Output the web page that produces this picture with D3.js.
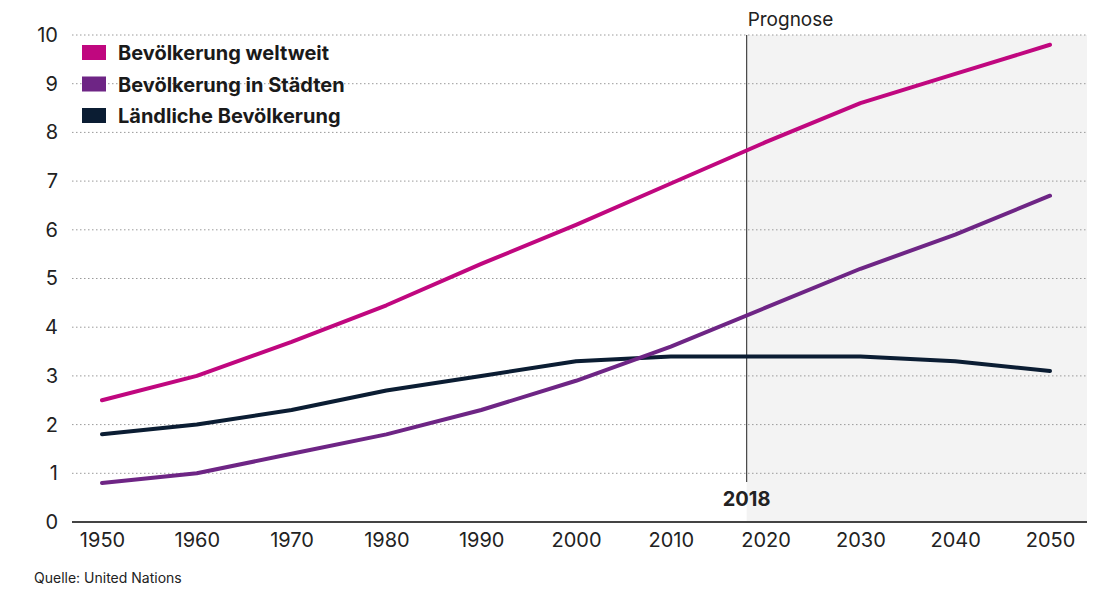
<!DOCTYPE html>
<html><head><meta charset="utf-8">
<script src="https://cdn.jsdelivr.net/npm/d3@7"></script>
<style>body{margin:0;background:#fff}svg{display:block;font-family:Inter,"Liberation Sans",sans-serif}</style>
</head><body><svg id="c" width="1120" height="614"></svg>
<script>
const years=[1950,1960,1970,1980,1990,2000,2010,2020,2030,2040,2050];
const world=[2.5,3.0,3.7,4.45,5.3,6.1,6.95,7.8,8.6,9.2,9.8];
const urban=[0.8,1.0,1.4,1.8,2.3,2.9,3.6,4.4,5.2,5.9,6.7];
const rural=[1.8,2.0,2.3,2.7,3.0,3.3,3.4,3.4,3.4,3.3,3.1];
const yTicks=[0,1,2,3,4,5,6,7,8,9,10];
const seriesNames=["Bevölkerung weltweit","Bevölkerung in Städten","Ländliche Bevölkerung"];
const colors=["#c0077f","#6e2585","#0b1d33"];
const forecastYear=2018;

const svg=d3.select("#c");
const x=d3.scaleLinear().domain([1950,2050]).range([102,1050]);
const y=d3.scaleLinear().domain([0,10]).range([522,35]);
const x0=72,x1=1087;
const FF="Inter,'Liberation Sans',sans-serif";

svg.append("rect").attr("x",x(forecastYear)).attr("y",y(10)).attr("width",x1-x(forecastYear)).attr("height",y(0)-y(10)).attr("fill","#f3f3f3");

yTicks.filter(d=>d>0).forEach(t=>{
  svg.append("line").attr("x1",x0).attr("x2",x1).attr("y1",y(t)).attr("y2",y(t))
    .attr("stroke","#9a9a9a").attr("stroke-width",1).attr("stroke-dasharray","1.5,2.5");
});
const yAxis=svg.append("g").attr("transform",`translate(${x0},0)`).call(d3.axisLeft(y).tickValues(yTicks).tickSize(0).tickPadding(14));
yAxis.select(".domain").remove();
yAxis.selectAll("text").attr("font-size",20).attr("fill","#222").attr("font-family",FF);

const xAxis=svg.append("g").attr("transform",`translate(0,${y(0)})`).call(d3.axisBottom(x).tickValues(years).tickFormat(d3.format("d")).tickSize(0).tickPadding(11));
xAxis.select(".domain").remove();
xAxis.selectAll("text").attr("font-size",20).attr("fill","#222").attr("font-family",FF);
svg.append("line").attr("x1",x0).attr("x2",x1).attr("y1",y(0)).attr("y2",y(0)).attr("stroke","#444").attr("stroke-width",2);

svg.append("line").attr("x1",x(forecastYear)).attr("x2",x(forecastYear)).attr("y1",y(10)).attr("y2",482).attr("stroke","#444").attr("stroke-width",1.2);
svg.append("text").attr("x",x(forecastYear)+1).attr("y",26).attr("font-size",19).attr("fill","#222").text("Prognose");
svg.append("text").attr("x",x(forecastYear)).attr("y",506).attr("text-anchor","middle").attr("font-size",20).attr("font-weight","bold").attr("fill","#222").text(String(forecastYear));

const line=d3.line().x((d,i)=>x(years[i])).y(d=>y(d));
[rural,urban,world].forEach((s,k)=>{
  const idx=[2,1,0][k];
  svg.append("path").datum(s).attr("d",line).attr("fill","none").attr("stroke",colors[idx]).attr("stroke-width",4).attr("stroke-linecap","round").attr("stroke-linejoin","round");
});

seriesNames.forEach((n,i)=>{
  const cy=53+i*31.5;
  svg.append("rect").attr("x",82).attr("y",cy-8).attr("width",24).attr("height",15).attr("fill",colors[i]);
  svg.append("text").attr("x",118).attr("y",cy+7).attr("font-size",20).attr("font-weight","bold").attr("fill","#1a1a1a").text(n);
});

svg.append("text").attr("x",34).attr("y",583).attr("font-size",14).attr("fill","#222").text("Quelle: United Nations");
</script></body></html>
